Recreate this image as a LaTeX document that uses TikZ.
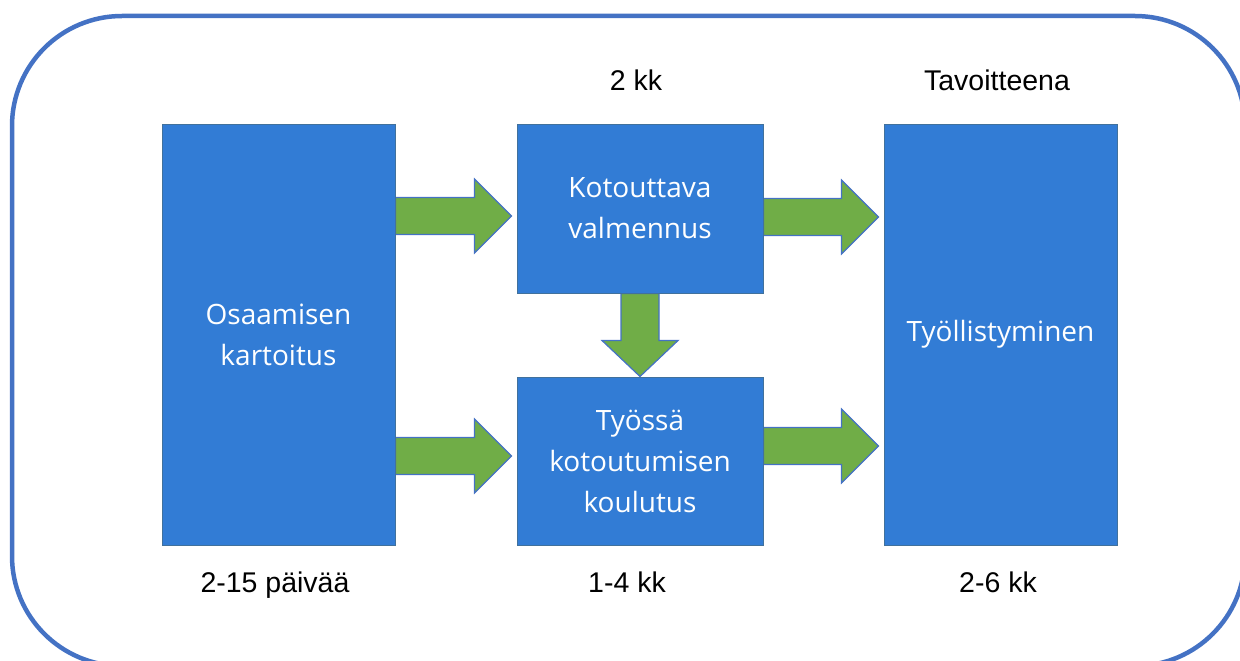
\documentclass[tikz,border=0pt]{standalone}
\usepackage{fontspec}
\setmainfont{Liberation Sans}
\newfontfamily\boxfont{Open Sans}
\usetikzlibrary{calc,backgrounds}
\definecolor{boxblue}{HTML}{327CD5}
\definecolor{boxedge}{HTML}{41719C}
\definecolor{arrgreen}{HTML}{70AD47}
\definecolor{arredge}{HTML}{4472C4}
\definecolor{outerblue}{HTML}{4472C4}
\tikzset{
  stage/.style={draw=boxedge, line width=1pt, fill=boxblue, text=white,
    font=\boxfont\fontsize{28}{41}\selectfont, align=center, inner sep=0pt},
  lbl/.style={font=\fontsize{28.5}{34}\selectfont, anchor=base, inner sep=0pt},
  blockarrow/.style={draw=arredge, line width=1.2pt, fill=arrgreen, line join=miter},
  outer/.style={draw=outerblue, line width=4.5pt, rounded corners=110pt}
}
% horizontal block arrow: from node anchor, to node anchor, y centre
\newcommand\harrow[3]{%
  \draw[blockarrow] let \p1=(#1), \p2=(#2) in
    (\x1,{-(#3-18.5)*1pt}) -- (\x2-42pt,{-(#3-18.5)*1pt}) --
    (\x2-42pt,{-(#3-37)*1pt}) -- (\x2-5pt,{-#3*1pt}) --
    (\x2-42pt,{-(#3+37)*1pt}) -- (\x2-42pt,{-(#3+18.5)*1pt}) --
    (\x1,{-(#3+18.5)*1pt}) -- cycle;}
\begin{document}
\begin{tikzpicture}[x=1pt,y=-1pt]
\useasboundingbox (0,0) rectangle (1240,661);
\clip (0,0) rectangle (1240,661);
\draw[outer] (12,16) rectangle (1245,666);

\node[stage, minimum width=233pt, minimum height=421pt] (osa) at (278.5,334.5) {Osaamisen\\kartoitus};
\node[stage, minimum width=246pt, minimum height=169pt] (kot) at (640,208.5) {Kotouttava\\valmennus};
\node[stage, minimum width=246pt, minimum height=168pt] (tyo) at (640,461) {Työssä\\kotoutumisen\\koulutus};
\node[stage, minimum width=233pt, minimum height=421pt] (tyl) at (1000.5,334.5) {Työllistyminen};

\begin{scope}[on background layer]
\harrow{osa.east}{kot.west}{216}
\harrow{osa.east}{tyo.west}{456}
\harrow{kot.east}{tyl.west}{217}
\harrow{tyo.east}{tyl.west}{446}
\draw[blockarrow] let \p1=(kot.south), \p2=(tyo.north) in
  (\x1-19pt,\y1) -- (\x1-19pt,\y2+36pt) -- (\x1-38pt,\y2+36pt) --
  (\x1,\y2) -- (\x1+38pt,\y2+36pt) -- (\x1+19pt,\y2+36pt) --
  (\x1+19pt,\y1) -- cycle;
\end{scope}

\node[lbl] (l1) at (636,91) {2 kk};
\node[lbl] (l2) at (997,91) {Tavoitteena};
\node[lbl] (l3) at (275,592) {2-15 päivää};
\node[lbl] (l4) at (627,592) {1-4 kk};
\node[lbl] (l5) at (998,592) {2-6 kk};
\end{tikzpicture}
\end{document}
